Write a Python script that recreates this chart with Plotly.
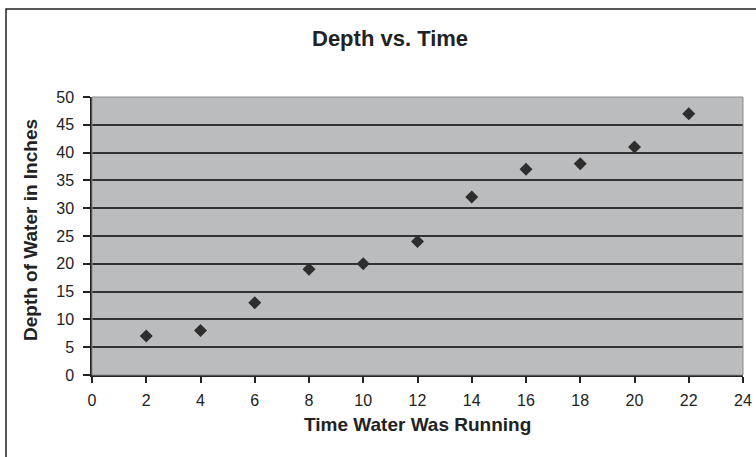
import plotly.graph_objects as go

# ── Data ──────────────────────────────────────────────────────────────────────
time_running = [2, 4, 6, 8, 10, 12, 14, 16, 18, 20, 22]
depth_inches = [7, 8, 13, 19, 20, 24, 32, 37, 38, 41, 47]

x_ticks = list(range(0, 25, 2))
y_ticks = list(range(0, 51, 5))

FONT = "Liberation Sans, Arial, sans-serif"
W, H = 756, 457
L, R, T, B = 92, 13, 97, 82
PW, PH = W - L - R, H - T - B


def px_x(px):   # pixel -> paper x
    return (px - L) / PW


def px_y(py):   # pixel -> paper y
    return (H - B - py) / PH


fig = go.Figure()
fig.add_trace(go.Scatter(
    x=time_running, y=depth_inches, mode="markers",
    marker=dict(symbol="diamond", size=10, color="#2e2e2e"),
    showlegend=False,
))

# outer chart-area frame (only left/top edges visible in the reference)
fig.add_shape(type="rect", xref="paper", yref="paper",
              x0=px_x(6), x1=px_x(800), y0=px_y(520), y1=px_y(9),
              line=dict(color="#222", width=1.5), layer="below")

# thin gray edges of the plot area
fig.add_shape(type="rect", xref="paper", yref="paper", x0=0, x1=1, y0=0, y1=1,
              line=dict(color="#8a8a8a", width=1))

# titles
fig.add_annotation(text="<b>Depth vs. Time</b>", xref="paper", yref="paper",
                   x=px_x(390), y=px_y(38), xanchor="center", yanchor="middle",
                   showarrow=False, font=dict(size=22, color="#222"))
fig.add_annotation(text="<b>Time Water Was Running</b>", xref="paper", yref="paper",
                   x=0.5, y=px_y(424), xanchor="center", yanchor="middle",
                   showarrow=False, font=dict(size=19, color="#222"))
fig.add_annotation(text="<b>Depth of Water in Inches</b>", xref="paper", yref="paper",
                   x=px_x(30), y=px_y(230), xanchor="center", yanchor="middle",
                   textangle=-90, showarrow=False, font=dict(size=19, color="#222"))

fig.update_layout(
    width=W, height=H,
    margin=dict(l=L, r=R, t=T, b=B),
    paper_bgcolor="white",
    plot_bgcolor="#bbbcbe",
    font=dict(family=FONT, color="#222", size=16),
)

fig.update_xaxes(
    range=[0, 24], tickvals=x_ticks, ticks="outside", ticklen=6,
    tickcolor="#222", tickwidth=1.5, showline=True, linecolor="#222", linewidth=1.5,
    showgrid=False, zeroline=False, automargin=False, ticklabelstandoff=4,
)
fig.update_yaxes(
    range=[0, 50], tickvals=y_ticks, ticks="outside", ticklen=7,
    tickcolor="#222", tickwidth=1.5, showline=True, linecolor="#222", linewidth=1.5,
    showgrid=True, gridcolor="#333333", gridwidth=2, zeroline=False,
    automargin=False, ticklabelstandoff=6,
)

# drop the browser's default 8px body margin so the figure sits at (0, 0)
fig.write_html("out.html", config={"displayModeBar": False},
               post_script="document.body.style.margin='0px';")
